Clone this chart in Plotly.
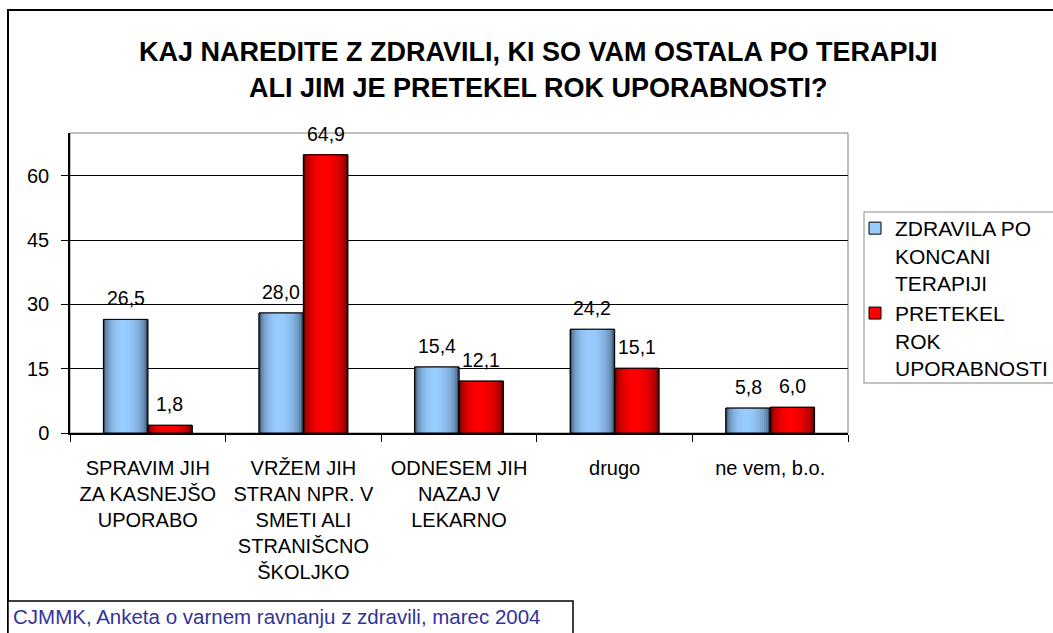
import plotly.graph_objects as go

# ---------------- data ----------------
categories = ["SPRAVIM JIH<br>ZA KASNEJŠO<br>UPORABO",
              "VRŽEM JIH<br>STRAN NPR. V<br>SMETI ALI<br>STRANIŠCNO<br>ŠKOLJKO",
              "ODNESEM JIH<br>NAZAJ V<br>LEKARNO",
              "drugo",
              "ne vem, b.o."]
series_names = ["ZDRAVILA PO<br>KONCANI<br>TERAPIJI", "PRETEKEL<br>ROK<br>UPORABNOSTI"]
after_therapy = [26.5, 28.0, 15.4, 24.2, 5.8]
expired = [1.8, 64.9, 12.1, 15.1, 6.0]
y_ticks = [0, 15, 30, 45, 60]
title_line1 = "KAJ NAREDITE Z ZDRAVILI, KI SO VAM OSTALA PO TERAPIJI"
title_line2 = "ALI JIM JE PRETEKEL ROK UPORABNOSTI?"
footer_text = "CJMMK, Anketa o varnem ravnanju z zdravili, marec 2004"

# ---------------- layout constants ----------------
W, H = 1053, 633
ML, MR, MT, MB = 70, 205, 133, 200
PW, PH = W - ML - MR, H - MT - MB
FONT = "Liberation Sans, Arial, sans-serif"
BAR_W = 0.285
N_LAYERS = 12

def px_x(px):
    return (px - ML) / PW

def px_y(py):
    return (H - MB - py) / PH

def lerp(c1, c2, t):
    return "rgb(%d,%d,%d)" % tuple(round(a + (b - a) * t) for a, b in zip(c1, c2))

series = [
    (after_therapy, (0x99, 0xCC, 0xFF), (0x38, 0x50, 0x6B), -BAR_W),
    (expired, (0xFF, 0x00, 0x00), (0x60, 0x00, 0x00), 0.0),
]

fig = go.Figure()
for (vals, light, dark, off), name in zip(series, series_names):
    center = off + BAR_W / 2
    # legend / base trace
    fig.add_trace(go.Bar(x=categories, y=vals, name=name, width=BAR_W, offset=off,
                         marker=dict(color=lerp(dark, light, 1.0), line=dict(color="black", width=1)),
                         showlegend=True, hoverinfo="skip"))
    # cylinder-like shading layers
    for k in range(N_LAYERS):
        frac = 1 - k / N_LAYERS
        w = BAR_W * frac
        t = (1 - frac ** 2) ** 0.5
        shift = -0.06 * BAR_W * (1 - frac)
        fig.add_trace(go.Bar(x=categories, y=vals, width=w, offset=center - w / 2 + shift,
                             marker=dict(color=lerp(dark, light, t), line=dict(width=0)),
                             showlegend=False, hoverinfo="skip"))
    # outline
    fig.add_trace(go.Bar(x=categories, y=vals, width=BAR_W, offset=off,
                         marker=dict(color="rgba(0,0,0,0)", line=dict(color="black", width=1)),
                         showlegend=False, hoverinfo="skip"))

# value labels
annotations = []
cat_px = PW / len(categories)
for (vals, light, dark, off) in series:
    xs = (off + BAR_W / 2) * cat_px
    for c, v in zip(categories, vals):
        annotations.append(dict(x=c, y=v, xref="x", yref="y", xshift=xs, yshift=8,
                                text=("%.1f" % v).replace(".", ","), showarrow=False,
                                yanchor="bottom", xanchor="center",
                                font=dict(family=FONT, size=19.5, color="black")))

# title (two lines, Excel-like line spacing)
for line, ypx in ((title_line1, 52), (title_line2, 88)):
    annotations.append(dict(x=px_x(538), y=px_y(ypx), xref="paper", yref="paper",
                            text="<b>" + line + "</b>", showarrow=False,
                            xanchor="center", yanchor="middle",
                            font=dict(family=FONT, size=27, color="black")))

annotations.append(dict(x=px_x(11), y=px_y(616), xref="paper", yref="paper",
                        text=footer_text, showarrow=False, xanchor="left", yanchor="middle",
                        font=dict(family=FONT, size=20.5, color="#333399")))

shapes = [
    # outer chart frame
    dict(type="rect", xref="paper", yref="paper", x0=px_x(8), x1=px_x(1070),
         y0=px_y(650), y1=px_y(10), line=dict(color="black", width=2), layer="below"),
    # plot area border (grey)
    dict(type="rect", xref="paper", yref="paper", x0=0, x1=1, y0=0, y1=1,
         line=dict(color="#808080", width=1), layer="below"),
    # legend box
    dict(type="rect", xref="paper", yref="paper", x0=px_x(864), x1=px_x(1080),
         y0=px_y(383), y1=px_y(212), line=dict(color="#b0b0b0", width=1.5),
         fillcolor="white", layer="below"),
    # footer box
    dict(type="rect", xref="paper", yref="paper", x0=px_x(8), x1=px_x(573),
         y0=px_y(650), y1=px_y(601), line=dict(color="black", width=1.5), fillcolor="white"),
]

fig.update_layout(
    width=W, height=H,
    margin=dict(l=ML, r=MR, t=MT, b=MB, autoexpand=False),
    paper_bgcolor="white", plot_bgcolor="white",
    barmode="overlay",
    separators=",.",
    font=dict(family=FONT, size=20, color="black"),
    xaxis=dict(type="category", tickson="boundaries", ticks="outside", ticklen=7,
               tickcolor="black", showline=True, linecolor="black", linewidth=1.5,
               showgrid=False, tickfont=dict(family=FONT, size=20), ticklabelstandoff=16,
               fixedrange=True),
    yaxis=dict(range=[0, 70], tickvals=y_ticks, ticks="outside", ticklen=7, tickcolor="black",
               showline=True, linecolor="black", linewidth=1.5, showgrid=True,
               gridcolor="black", gridwidth=1, zeroline=False,
               tickfont=dict(family=FONT, size=20), ticklabelstandoff=8, fixedrange=True),
    legend=dict(x=px_x(855), y=px_y(208), xanchor="left", yanchor="top",
                bgcolor="rgba(0,0,0,0)", borderwidth=0,
                font=dict(family=FONT, size=21, color="black"),
                valign="top", tracegroupgap=0, itemwidth=30),
    annotations=annotations,
    shapes=shapes,
    showlegend=True,
)

fig.write_html("out.html", config={"displayModeBar": False},
               post_script="document.body.style.margin='0';document.body.style.overflow='hidden';")
